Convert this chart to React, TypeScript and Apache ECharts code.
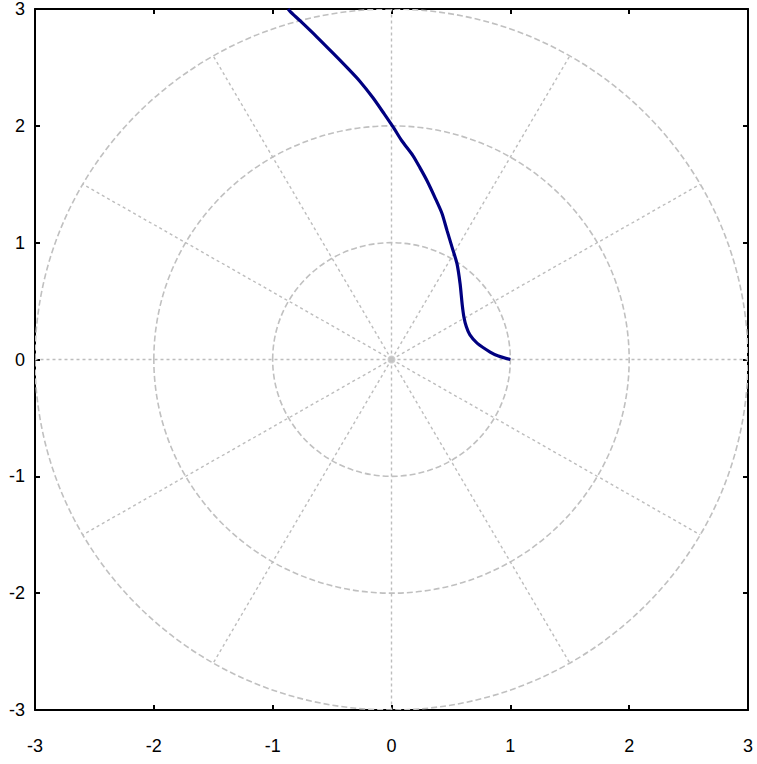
import React, { useEffect, useRef } from "react";
import * as echarts from "echarts";

const ticks = [-3, -2, -1, 0, 1, 2, 3];
const ringRadii = [1, 2, 3];
const spokeAngles = [0, 30, 60, 90, 120, 150, 180, 210, 240, 270, 300, 330];
const curveX = [1, 0.9, 0.83, 0.72, 0.66, 0.63, 0.61, 0.595, 0.577, 0.551, 0.51, 0.467, 0.425, 0.366, 0.299, 0.24, 0.18, 0.088, 0.02, -0.06, -0.156, -0.265, -0.375, -0.49, -0.627, -0.77, -0.854, -0.87];
const curveY = [0, 0.03, 0.064, 0.14, 0.21, 0.28, 0.36, 0.47, 0.65, 0.82, 0.96, 1.105, 1.25, 1.386, 1.53, 1.64, 1.745, 1.87, 1.98, 2.1, 2.24, 2.38, 2.5, 2.62, 2.76, 2.9, 2.98, 3.0];

const labelFont = { fontFamily: "Liberation Sans, Arial, sans-serif", fontSize: 18, color: "#000" };

export default function App() {
  const ref = useRef<HTMLDivElement>(null);
  useEffect(() => {
    if (!ref.current) return;
    const chart = echarts.init(ref.current, null, { renderer: "svg" });
    const axisCommon = {
      type: "value",
      min: -3,
      max: 3,
      interval: 1,
      splitLine: { show: false },
      axisLine: { show: true, onZero: false, lineStyle: { color: "#000", width: 2 } },
      axisTick: { show: true, inside: true, length: 5, lineStyle: { color: "#000", width: 2 } },
    };
    chart.setOption({
      animation: false,
      backgroundColor: "#fff",
      grid: { left: 35, right: 9, top: 9, bottom: 54, containLabel: false },
      xAxis: [
        { ...axisCommon, position: "bottom", axisLabel: { ...labelFont, margin: 27, formatter: (v: number) => String(v) } },
        { ...axisCommon, position: "top", axisLabel: { show: false } },
      ],
      yAxis: [
        { ...axisCommon, position: "left", axisLabel: { ...labelFont, margin: 10, padding: [12, 0, 0, 0], formatter: (v: number) => String(v) } },
        { ...axisCommon, position: "right", axisLabel: { show: false } },
      ],
      series: [
        {
          type: "custom",
          data: ringRadii.map((r) => [r]),
          clip: true,
          z: 1,
          renderItem: (params: any, api: any) => {
            const r = api.value(0);
            const c = api.coord([0, 0]);
            const s = api.size([r, r]);
            return {
              type: "ellipse",
              shape: { cx: c[0], cy: c[1], rx: s[0], ry: s[1] },
              style: { fill: "none", stroke: "#c0c0c0", lineWidth: 1.6, lineDash: [6, 3] },
            };
          },
        },
        {
          type: "custom",
          data: spokeAngles.map((a) => [a]),
          clip: true,
          z: 1,
          renderItem: (params: any, api: any) => {
            const a = (api.value(0) * Math.PI) / 180;
            const c = api.coord([0, 0]);
            const e = api.coord([3 * Math.cos(a), 3 * Math.sin(a)]);
            return {
              type: "line",
              shape: { x1: c[0], y1: c[1], x2: e[0], y2: e[1] },
              style: { stroke: "#bdbdbd", lineWidth: 1.4, lineDash: [3, 3] },
            };
          },
        },
        {
          type: "scatter",
          data: [[0, 0]],
          symbol: "circle",
          symbolSize: 8,
          itemStyle: { color: "#c4c4c4" },
          z: 2,
          silent: true,
        },
        {
          type: "line",
          data: curveX.map((x, i) => [x, curveY[i]]),
          showSymbol: false,
          smooth: 0.25,
          clip: true,
          lineStyle: { color: "#000080", width: 3.2 },
          z: 5,
        },
      ],
    });
    return () => chart.dispose();
  }, []);
  return <div ref={ref} style={{ width: 757, height: 764, position: "absolute", left: 0, top: 0 }} />;
}
